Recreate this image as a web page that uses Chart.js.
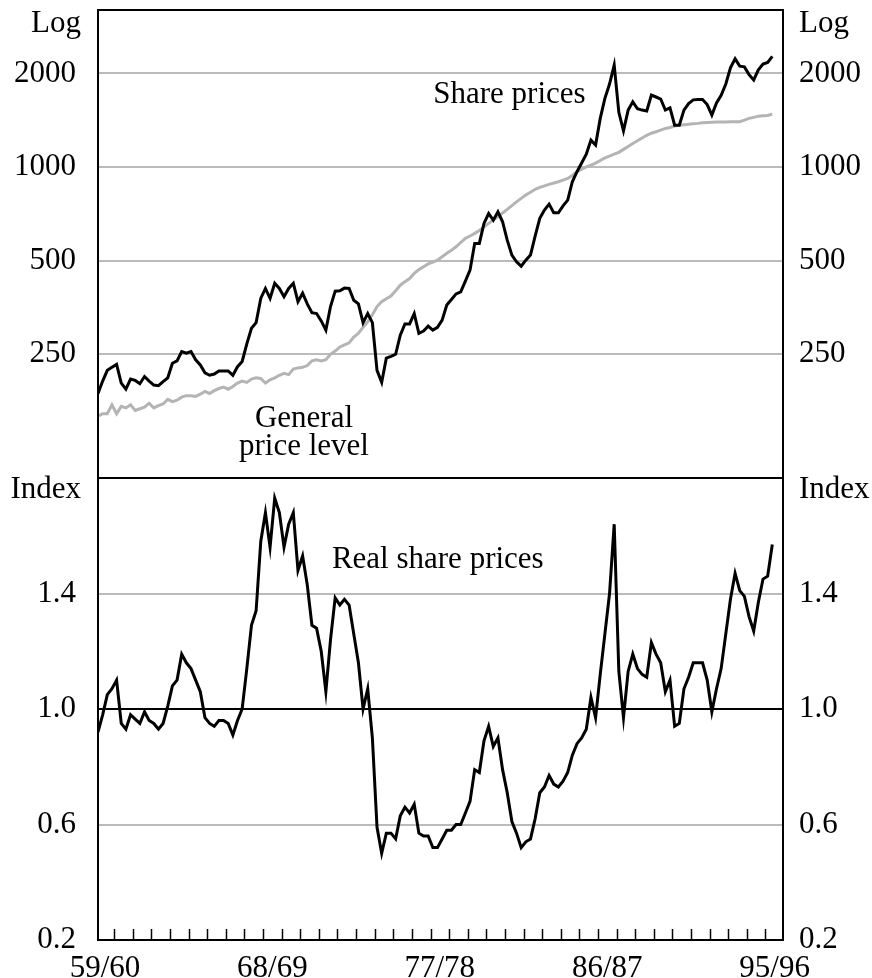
<!DOCTYPE html>
<html>
<head>
<meta charset="utf-8">
<script src="https://cdn.jsdelivr.net/npm/chart.js@4.4.1/dist/chart.umd.min.js"></script>
<style>
html,body{margin:0;padding:0;background:#fff;}
#wrap{position:relative;width:872px;height:978px;overflow:hidden;background:#fff;}
canvas{position:absolute;left:0;}
#c1{top:0;}
#c2{top:470px;}
</style>
</head>
<body>
<div id="wrap">
<canvas id="c1" width="872" height="480"></canvas>
<canvas id="c2" width="872" height="508"></canvas>
</div>
<script>
// Quarterly data, September quarter 1959 onwards (index 0 = 1959 Q3)
const sharePrices = [
187,205,222,227,232,202,193,208,206,201,
212,205,199,198,204,210,234,238,255,252,
255,240,231,218,214,216,221,221,221,214,
228,237,270,303,316,378,407,378,423,407,
383,407,423,369,393,363,340,338,320,299,
356,399,400,408,407,373,363,316,338,316,
222,203,243,246,250,288,313,313,338,292,
297,308,299,305,322,360,375,391,397,430,
466,568,568,659,709,675,718,667,582,521,
496,480,502,521,600,684,727,760,713,713,
750,783,897,966,1030,1100,1221,1177,1434,1663,
1850,2127,1500,1308,1525,1621,1540,1525,1515,1704,
1680,1655,1525,1550,1364,1364,1525,1600,1645,1648,
1650,1589,1470,1608,1700,1850,2084,2229,2111,2100,
1983,1906,2054,2143,2170,2270
];
const priceLevel = [
158,161,161,172,161,170,168,172,165,167,
169,174,168,171,173,179,176,178,182,184,
184,183,186,190,187,191,194,196,193,197,
202,205,203,208,210,209,202,207,210,214,
217,215,224,226,227,230,238,240,238,240,
250,256,264,268,272,284,292,305,318,335,
356,369,377,385,400,417,428,438,455,468,
478,488,495,502,515,528,540,554,572,590,
600,612,625,642,659,675,692,712,731,752,
773,793,813,830,848,860,870,880,889,897,
908,919,940,966,985,1002,1015,1030,1050,1070,
1085,1100,1115,1140,1165,1190,1215,1240,1265,1285,
1299,1315,1331,1340,1355,1362,1368,1374,1378,1382,
1388,1390,1393,1395,1396,1397,1398,1399,1400,1415,
1434,1445,1458,1462,1465,1480
];
const realSharePrices = [
0.92,0.98,1.05,1.07,1.10,0.95,0.93,0.98,0.965,0.95,
0.99,0.96,0.95,0.93,0.95,1.01,1.08,1.10,1.19,1.16,
1.14,1.10,1.06,0.97,0.95,0.94,0.96,0.96,0.95,0.91,
0.96,1.00,1.14,1.29,1.34,1.58,1.68,1.56,1.73,1.68,
1.56,1.64,1.68,1.48,1.53,1.43,1.29,1.28,1.20,1.06,
1.24,1.385,1.36,1.38,1.36,1.26,1.16,1.00,1.07,0.90,
0.59,0.50,0.57,0.57,0.55,0.63,0.66,0.64,0.67,0.57,
0.56,0.56,0.52,0.52,0.55,0.58,0.58,0.60,0.60,0.64,
0.68,0.79,0.78,0.89,0.94,0.87,0.90,0.79,0.71,0.61,
0.57,0.52,0.54,0.55,0.62,0.71,0.73,0.77,0.74,0.73,
0.75,0.78,0.84,0.88,0.90,0.93,1.04,0.97,1.12,1.26,
1.40,1.64,1.13,0.97,1.13,1.19,1.14,1.12,1.11,1.23,
1.19,1.16,1.06,1.10,0.94,0.95,1.07,1.11,1.16,1.16,
1.16,1.10,0.99,1.07,1.14,1.26,1.38,1.47,1.41,1.39,
1.32,1.27,1.37,1.45,1.46,1.57
];
const logTicks = [250, 500, 1000, 2000];
const indexTicks = [0.2, 0.6, 1.0, 1.4];
const yearLabels = ['59/60', '68/69', '77/78', '86/87', '95/96'];
const yearLabelOffsets = [0, 9, 18, 27, 36];   // financial years after 1959/60
const nYears = 37;

const FAMILY = '"Liberation Serif", "Times New Roman", serif';
const FONT = '31px ' + FAMILY;
Chart.defaults.font.family = FAMILY;
Chart.defaults.font.size = 31;
Chart.defaults.color = '#000';

const xMin = 0, xMax = 147.3;
const toXY = arr => arr.map((v, i) => ({x: i, y: v}));
const noPad = s => { s.paddingTop = 0; s.paddingBottom = 0; s.paddingLeft = 0; s.paddingRight = 0; };

const framePlugin = {
  id: 'frame',
  afterDraw(chart, args, opts) {
    const {ctx, chartArea: a} = chart;
    ctx.save();
    ctx.strokeStyle = '#000';
    ctx.lineWidth = 2;
    ctx.strokeRect(a.left, a.top, a.right - a.left, a.bottom - a.top);
    if (opts.yearTicks) {
      const xs = chart.scales.x;
      ctx.lineWidth = 1.5;
      for (let k = 1; k < nYears; k++) {
        const px = Math.round(xs.getPixelForValue(k * 4 - 0.5)) + 0.5;
        ctx.beginPath();
        ctx.moveTo(px, a.bottom);
        ctx.lineTo(px, a.bottom - 11);
        ctx.stroke();
      }
    }
    ctx.fillStyle = '#000';
    ctx.font = FONT;
    ctx.textBaseline = 'alphabetic';
    (opts.units || []).forEach(u => {
      ctx.textAlign = 'right';
      ctx.fillText(u.text, a.left - 17, u.y);
      ctx.textAlign = 'left';
      ctx.fillText(u.text, a.right + 16, u.y);
    });
    const xs = chart.scales.x, ys = chart.scales.y;
    (opts.notes || []).forEach(n => {
      ctx.textAlign = n.align;
      ctx.fillText(n.text, xs.getPixelForValue(n.x), ys.getPixelForValue(n.y));
    });
    ctx.restore();
  }
};

const gridGrey = '#bbbbbb';

new Chart(document.getElementById('c1'), {
  type: 'line',
  data: {
    datasets: [
      {label: 'Share prices', data: toXY(sharePrices), borderColor: '#000', borderWidth: 3,
       pointRadius: 0, tension: 0, yAxisID: 'y'},
      {label: 'General price level', data: toXY(priceLevel), borderColor: '#b4b4b4', borderWidth: 3,
       pointRadius: 0, tension: 0, yAxisID: 'y'}
    ]
  },
  options: {
    responsive: false, animation: false, devicePixelRatio: 1, events: [],
    layout: {padding: {top: 10, bottom: 2, left: 0, right: 0}},
    plugins: {
      legend: {display: false}, tooltip: {enabled: false},
      frame: {
        units: [{text: 'Log', y: 32}],
        notes: [
          {text: 'Share prices', x: 72.1, y: 1606, align: 'left'},
          {text: 'General', x: 44.3, y: 146, align: 'center'},
          {text: 'price level', x: 44.3, y: 119, align: 'center'}
        ]
      }
    },
    scales: {
      x: {type: 'linear', min: xMin, max: xMax, display: false},
      y: {
        type: 'logarithmic', position: 'left', min: 100, max: 3200,
        afterBuildTicks: s => { s.ticks = logTicks.map(v => ({value: v})); },
        afterFit: s => { s.width = 98; noPad(s); },
        ticks: {callback: v => String(v), padding: 22, autoSkip: false, color: '#000'},
        grid: {drawTicks: false, color: gridGrey, lineWidth: 2},
        border: {display: false}
      },
      y2: {
        type: 'logarithmic', position: 'right', min: 100, max: 3200,
        afterBuildTicks: s => { s.ticks = logTicks.map(v => ({value: v})); },
        afterFit: s => { s.width = 89; noPad(s); },
        ticks: {callback: v => String(v), padding: 16, autoSkip: false, color: '#000'},
        grid: {display: false, drawTicks: false},
        border: {display: false}
      }
    }
  },
  plugins: [framePlugin]
});

new Chart(document.getElementById('c2'), {
  type: 'line',
  data: {
    datasets: [
      {label: 'Real share prices', data: toXY(realSharePrices), borderColor: '#000', borderWidth: 3,
       pointRadius: 0, tension: 0, yAxisID: 'y'}
    ]
  },
  options: {
    responsive: false, animation: false, devicePixelRatio: 1, events: [],
    layout: {padding: {top: 8, bottom: 0, left: 0, right: 0}},
    plugins: {
      legend: {display: false}, tooltip: {enabled: false},
      frame: {
        yearTicks: true,
        units: [{text: 'Index', y: 28}],
        notes: [{text: 'Real share prices', x: 50.3, y: 1.488, align: 'left'}]
      }
    },
    scales: {
      x: {
        type: 'linear', min: xMin, max: xMax, position: 'bottom',
        afterBuildTicks: s => { s.ticks = yearLabelOffsets.map(o => ({value: o * 4 + 1.5})); },
        afterFit: s => { s.height = 38; noPad(s); },
        ticks: {callback: (v, i) => yearLabels[i], autoSkip: false, maxRotation: 0, padding: 10, color: '#000'},
        grid: {display: false, drawTicks: false},
        border: {display: false}
      },
      y: {
        type: 'linear', position: 'left', min: 0.2, max: 1.8,
        afterBuildTicks: s => { s.ticks = indexTicks.map(v => ({value: v})); },
        afterFit: s => { s.width = 98; noPad(s); },
        ticks: {callback: v => v.toFixed(1), padding: 22, autoSkip: false, color: '#000'},
        grid: {
          drawTicks: false, lineWidth: 2,
          color: c => Math.abs(c.tick.value - 1) < 1e-9 ? '#000' :
                      (Math.abs(c.tick.value - 0.2) < 1e-9 ? 'rgba(0,0,0,0)' : gridGrey)
        },
        border: {display: false}
      },
      y2: {
        type: 'linear', position: 'right', min: 0.2, max: 1.8,
        afterBuildTicks: s => { s.ticks = indexTicks.map(v => ({value: v})); },
        afterFit: s => { s.width = 89; noPad(s); },
        ticks: {callback: v => v.toFixed(1), padding: 16, autoSkip: false, color: '#000'},
        grid: {display: false, drawTicks: false},
        border: {display: false}
      }
    }
  },
  plugins: [framePlugin]
});
</script>
</body>
</html>
